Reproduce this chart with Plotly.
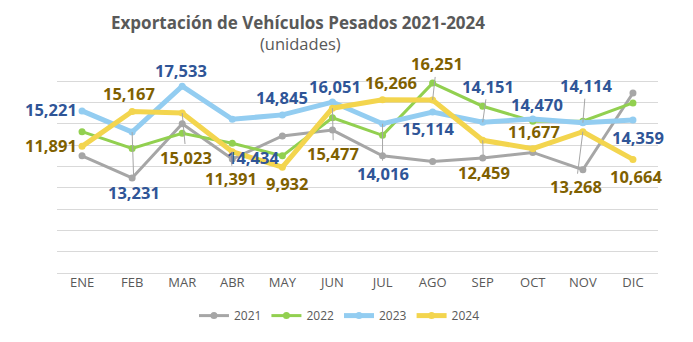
import plotly.graph_objects as go

months = ["ENE", "FEB", "MAR", "ABR", "MAY", "JUN", "JUL", "AGO", "SEP", "OCT", "NOV", "DIC"]
v2021 = [11000, 8930, 14020, 10700, 12870, 13420, 11000, 10480, 10790, 11320, 9700, 16900]
v2022 = [13270, 11690, 13120, 12190, 11000, 14580, 12930, 17830, 15660, 14260, 14260, 15970]
v2023 = [15221, 13231, 17533, 14434, 14845, 16051, 14016, 15114, 14151, 14470, 14114, 14359]
v2024 = [11891, 15167, 15023, 11391, 9932, 15477, 16266, 16251, 12459, 11677, 13268, 10664]

# label placement (pixel offsets from point; positive dy = down) and leader-line flags
dx23 = [-31, 2, -1, 21, 0, 3, 0, -5, 5, 4, 3, 5]
dy23 = [-1, 60, -16, 38, -17, -16, 50, 16, -36, -14, -37, 17]
ld23 = [0, 1, 0, 0, 0, 0, 1, 0, 1, 0, 1, 0]
dx24 = [-31, -3, 4, -1, 5, 1, 8, 4, 1, 1, -7, 3]
dy24 = [-1, -18, 44, 27, 16, 45, -17, -36, 32, -17, 55, 17]
ld24 = [0, 0, 1, 1, 0, 1, 0, 1, 1, 0, 1, 0]

fig = go.Figure()
series = [
    ("2021", v2021, "#A6A6A6", 3),
    ("2022", v2022, "#92D050", 3),
    ("2023", v2023, "#93CDF1", 5),
    ("2024", v2024, "#F3D54E", 5),
]
for name, vals, col, w in series:
    fig.add_trace(go.Scatter(
        x=months, y=vals, name=name, mode="lines+markers",
        line=dict(color=col, width=w),
        marker=dict(color=col, size=7),
    ))

LBL = 16.5
annotations = []
def add_labels(vals, dxs, dys, lds, color):
    for m, v, dx, dy, ld in zip(months, vals, dxs, dys, lds):
        txt = f"{v:,}"
        font = dict(family="Open Sans", size=LBL, color=color, weight="bold")
        if ld:
            annotations.append(dict(
                x=m, y=v, xref="x", yref="y", text=txt, showarrow=True,
                arrowhead=0, arrowwidth=1, arrowcolor="#A6A6A6",
                ax=dx, ay=dy, standoff=0, font=font,
            ))
        else:
            annotations.append(dict(
                x=m, y=v, xref="x", yref="y", text=txt, showarrow=False,
                xshift=dx, yshift=-dy, font=font,
            ))

add_labels(v2023, dx23, dy23, ld23, "#2F5597")
add_labels(v2024, dx24, dy24, ld24, "#7F6000")

annotations.append(dict(
    x=(298 - 57) / 601, y=(275 - 22) / 215, xref="paper", yref="paper",
    text="Exportación de Vehículos Pesados 2021-2024", showarrow=False, yanchor="middle",
    font=dict(family="Open Sans", size=17, color="#595959", weight="bold"),
))
annotations.append(dict(
    x=(300 - 57) / 601, y=(275 - 43) / 215, xref="paper", yref="paper", text="(unidades)",
    showarrow=False, yanchor="middle",
    font=dict(family="Open Sans", size=16.5, color="#595959"),
))

fig.update_layout(
    width=693, height=342,
    margin=dict(l=57, r=35, t=60, b=67),
    paper_bgcolor="white", plot_bgcolor="white",
    showlegend=True,
    legend=dict(orientation="h", x=0.47, xanchor="center", y=-0.2, yanchor="middle",
                font=dict(family="Open Sans", size=12, color="#595959"),
                itemwidth=30, tracegroupgap=0),
    annotations=annotations,
    xaxis=dict(range=[-0.5, 11.5], showgrid=False, showline=False, ticks="",
               tickfont=dict(family="Open Sans", size=13, color="#595959")),
    yaxis=dict(range=[0, 20000], dtick=2000, showticklabels=False, showgrid=True,
               gridcolor="#D9D9D9", gridwidth=1, zeroline=True, zerolinecolor="#D9D9D9",
               zerolinewidth=1),
)

fig.write_html("out.html")
